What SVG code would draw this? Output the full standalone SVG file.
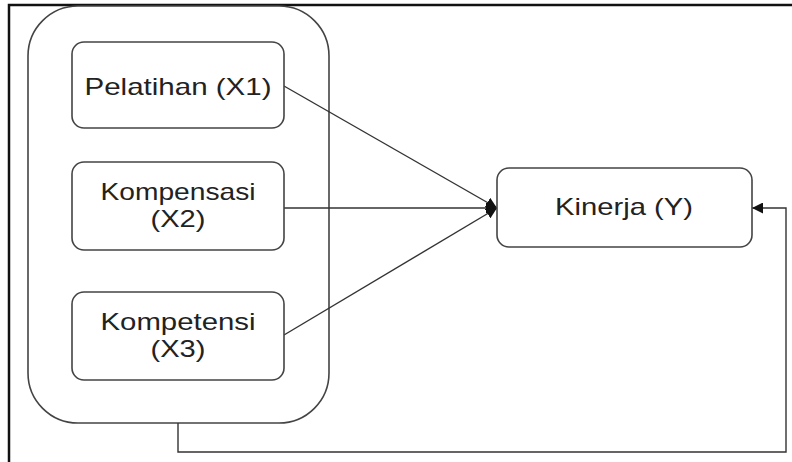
<svg xmlns="http://www.w3.org/2000/svg" width="792" height="462" viewBox="0 0 792 462">
<defs>
<style>
.box{fill:#fff;stroke:#444;stroke-width:1.6}
.lbl{font-family:"Liberation Sans",Arial,sans-serif;font-size:24px;fill:#222;text-anchor:middle}
.con{fill:none;stroke:#333;stroke-width:1.4}
.frame{fill:none;stroke:#111;stroke-width:2.5}
</style>
<marker id="arr" viewBox="0 0 10 10" refX="10" refY="5" markerWidth="11" markerHeight="11" markerUnits="userSpaceOnUse" orient="auto">
<path d="M0,0 L10,5 L0,10 Z" fill="#111"/>
</marker>
</defs>
<rect width="792" height="462" fill="#fff"/>
<path class="frame" d="M9,462 L9,5 L792,5"/>
<g id="container"><rect class="box" x="28" y="6" width="301" height="417" rx="50" ry="50"/></g>
<g id="connectors">
<line class="con" x1="284" y1="86" x2="497" y2="208" marker-end="url(#arr)"/>
<line class="con" x1="284" y1="208" x2="497" y2="208" marker-end="url(#arr)"/>
<line class="con" x1="284" y1="335" x2="497" y2="208" marker-end="url(#arr)"/>
<path class="con" d="M178,423 L178,452 L786,452 L786,208 L752,208" marker-end="url(#arr)" stroke="#555" stroke-width="2"/>
</g>
<g id="x1"><rect class="box" x="72" y="42" width="212" height="86" rx="12"/>
<text class="lbl" x="178" y="95" textLength="187" lengthAdjust="spacingAndGlyphs">Pelatihan (X1)</text></g>
<g id="x2"><rect class="box" x="72" y="162" width="212" height="88" rx="12"/>
<text class="lbl" x="178" y="200" textLength="155" lengthAdjust="spacingAndGlyphs">Kompensasi</text>
<text class="lbl" x="178" y="227" textLength="55" lengthAdjust="spacingAndGlyphs">(X2)</text></g>
<g id="x3"><rect class="box" x="72" y="292" width="212" height="88" rx="12"/>
<text class="lbl" x="178" y="330" textLength="155" lengthAdjust="spacingAndGlyphs">Kompetensi</text>
<text class="lbl" x="178" y="357" textLength="55" lengthAdjust="spacingAndGlyphs">(X3)</text></g>
<g id="y"><rect class="box" x="497" y="168" width="255" height="79" rx="12"/>
<text class="lbl" x="624" y="215" textLength="138" lengthAdjust="spacingAndGlyphs">Kinerja (Y)</text></g>
</svg>
